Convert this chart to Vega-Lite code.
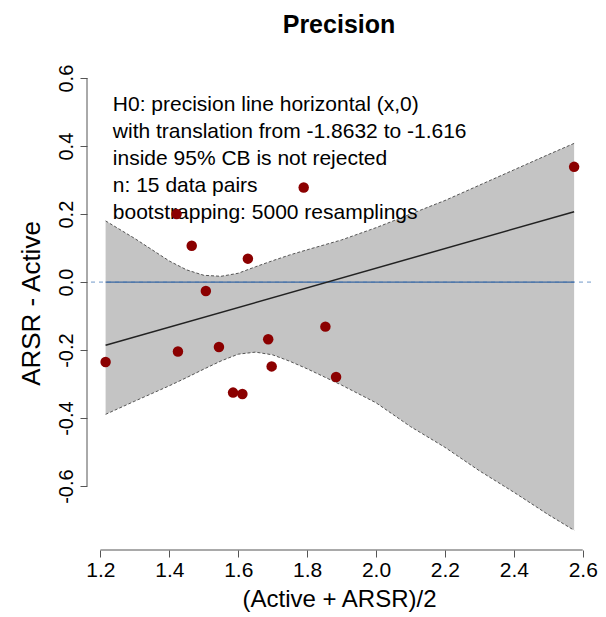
{
  "$schema": "https://vega.github.io/schema/vega-lite/v6.json",
  "width": 504,
  "height": 494,
  "autosize": {"type": "none"},
  "padding": {"left": 87, "top": 56, "right": 15, "bottom": 67},
  "background": "white",
  "title": {"text": "Precision", "fontSize": 25, "fontWeight": "bold", "font": "Liberation Sans", "anchor": "middle", "baseline": "alphabetic", "offset": -2, "color": "black"},
  "config": {"view": {"stroke": null}, "font": "Liberation Sans"},
  "data": {"values": [{}]},
  "datasets": {
    "points": [
      {"mean": 1.215, "diff": -0.235},
      {"mean": 1.421, "diff": 0.200},
      {"mean": 1.425, "diff": -0.204},
      {"mean": 1.465, "diff": 0.107},
      {"mean": 1.506, "diff": -0.026},
      {"mean": 1.544, "diff": -0.191},
      {"mean": 1.585, "diff": -0.325},
      {"mean": 1.612, "diff": -0.329},
      {"mean": 1.628, "diff": 0.069},
      {"mean": 1.687, "diff": -0.168},
      {"mean": 1.697, "diff": -0.248},
      {"mean": 1.790, "diff": 0.278},
      {"mean": 1.853, "diff": -0.131},
      {"mean": 1.884, "diff": -0.279},
      {"mean": 2.575, "diff": 0.339}
    ],
    "band": [
      {"mean": 1.215, "hi": 0.180, "lo": -0.389},
      {"mean": 1.30, "hi": 0.128, "lo": -0.350},
      {"mean": 1.40, "hi": 0.062, "lo": -0.305},
      {"mean": 1.45, "hi": 0.036, "lo": -0.281},
      {"mean": 1.50, "hi": 0.020, "lo": -0.256},
      {"mean": 1.55, "hi": 0.017, "lo": -0.232},
      {"mean": 1.60, "hi": 0.026, "lo": -0.212},
      {"mean": 1.65, "hi": 0.045, "lo": -0.206},
      {"mean": 1.70, "hi": 0.063, "lo": -0.214},
      {"mean": 1.75, "hi": 0.080, "lo": -0.233},
      {"mean": 1.80, "hi": 0.095, "lo": -0.255},
      {"mean": 1.90, "hi": 0.124, "lo": -0.303},
      {"mean": 2.00, "hi": 0.160, "lo": -0.355},
      {"mean": 2.10, "hi": 0.200, "lo": -0.425},
      {"mean": 2.20, "hi": 0.240, "lo": -0.486},
      {"mean": 2.30, "hi": 0.285, "lo": -0.555},
      {"mean": 2.40, "hi": 0.330, "lo": -0.618},
      {"mean": 2.50, "hi": 0.375, "lo": -0.684},
      {"mean": 2.575, "hi": 0.408, "lo": -0.730}
    ],
    "fit": [
      {"mean": 1.215, "diff": -0.186},
      {"mean": 2.575, "diff": 0.207}
    ],
    "notes": [
      {"note": "H0: precision line horizontal (x,0)\nwith translation from -1.8632 to -1.616\ninside 95% CB is not rejected\nn: 15 data pairs\nbootstrapping: 5000 resamplings"}
    ]
  },
  "layer": [
    {
      "data": {"name": "band"},
      "mark": {"type": "area", "fill": "#c4c4c4", "opacity": 1},
      "encoding": {
        "x": {"field": "mean", "type": "quantitative",
          "scale": {"domain": [1.161, 2.624], "nice": false, "zero": false},
          "axis": {"values": [1.2, 1.4, 1.6, 1.8, 2.0, 2.2, 2.4, 2.6], "format": ".1f", "domain": false, "grid": false,
            "tickSize": 7, "tickColor": "#555555", "labelFontSize": 21, "labelColor": "black", "labelPadding": 2,
            "labelFont": "Liberation Sans", "title": "(Active + ARSR)/2", "titleFontSize": 24, "titleFontWeight": "normal",
            "titleColor": "black", "titleFont": "Liberation Sans", "titlePadding": 7}},
        "y": {"field": "hi", "type": "quantitative",
          "scale": {"domain": [-0.788, 0.665], "nice": false, "zero": false},
          "axis": {"values": [-0.6, -0.4, -0.2, 0, 0.2, 0.4, 0.6], "format": ".1f",
            "labelExpr": "replace(datum.label, '\u2212', '-')", "domain": false, "grid": false,
            "tickSize": 7, "tickColor": "#555555", "labelAngle": -90, "labelAlign": "center", "labelBaseline": "bottom",
            "labelPadding": 4, "labelFontSize": 20, "labelColor": "black", "labelFont": "Liberation Sans",
            "title": "ARSR - Active", "titleFontSize": 26, "titleFontWeight": "normal", "titleColor": "black",
            "titleFont": "Liberation Sans", "titlePadding": 12}},
        "y2": {"field": "lo"}
      }
    },
    {
      "data": {"name": "band"},
      "mark": {"type": "line", "stroke": "#555555", "strokeWidth": 1, "strokeDash": [3, 2]},
      "encoding": {
        "x": {"field": "mean", "type": "quantitative"},
        "y": {"field": "hi", "type": "quantitative"}
      }
    },
    {
      "data": {"name": "band"},
      "mark": {"type": "line", "stroke": "#555555", "strokeWidth": 1, "strokeDash": [3, 2]},
      "encoding": {
        "x": {"field": "mean", "type": "quantitative"},
        "y": {"field": "lo", "type": "quantitative"}
      }
    },
    {
      "mark": {"type": "rule", "stroke": "#7098c8", "strokeWidth": 1, "strokeDash": [4, 4]},
      "encoding": {"y": {"datum": 0, "type": "quantitative"}}
    },
    {
      "mark": {"type": "rule", "stroke": "#3a67a0", "strokeWidth": 1.3},
      "encoding": {
        "x": {"datum": 1.215, "type": "quantitative"},
        "x2": {"datum": 2.575},
        "y": {"datum": 0, "type": "quantitative"}
      }
    },
    {
      "data": {"name": "fit"},
      "mark": {"type": "line", "stroke": "#222222", "strokeWidth": 1.5},
      "encoding": {
        "x": {"field": "mean", "type": "quantitative"},
        "y": {"field": "diff", "type": "quantitative"}
      }
    },
    {
      "data": {"name": "notes"},
      "mark": {"type": "text", "align": "left", "baseline": "middle", "fontSize": 21, "lineHeight": 27, "lineBreak": "\n", "font": "Liberation Sans", "color": "black"},
      "encoding": {
        "x": {"datum": 1.236, "type": "quantitative"},
        "y": {"datum": 0.521, "type": "quantitative"},
        "text": {"field": "note"}
      }
    },
    {
      "data": {"name": "points"},
      "mark": {"type": "circle", "size": 110, "fill": "#8b0000", "opacity": 1},
      "encoding": {
        "x": {"field": "mean", "type": "quantitative"},
        "y": {"field": "diff", "type": "quantitative"}
      }
    },
    {
      "mark": {"type": "rule", "stroke": "#555555", "strokeWidth": 1},
      "encoding": {
        "x": {"datum": 1.2, "type": "quantitative"},
        "x2": {"datum": 2.6},
        "y": {"datum": -0.788, "type": "quantitative"}
      }
    },
    {
      "mark": {"type": "rule", "stroke": "#555555", "strokeWidth": 1},
      "encoding": {
        "x": {"datum": 1.161, "type": "quantitative"},
        "y": {"datum": -0.6, "type": "quantitative"},
        "y2": {"datum": 0.6}
      }
    }
  ]
}
